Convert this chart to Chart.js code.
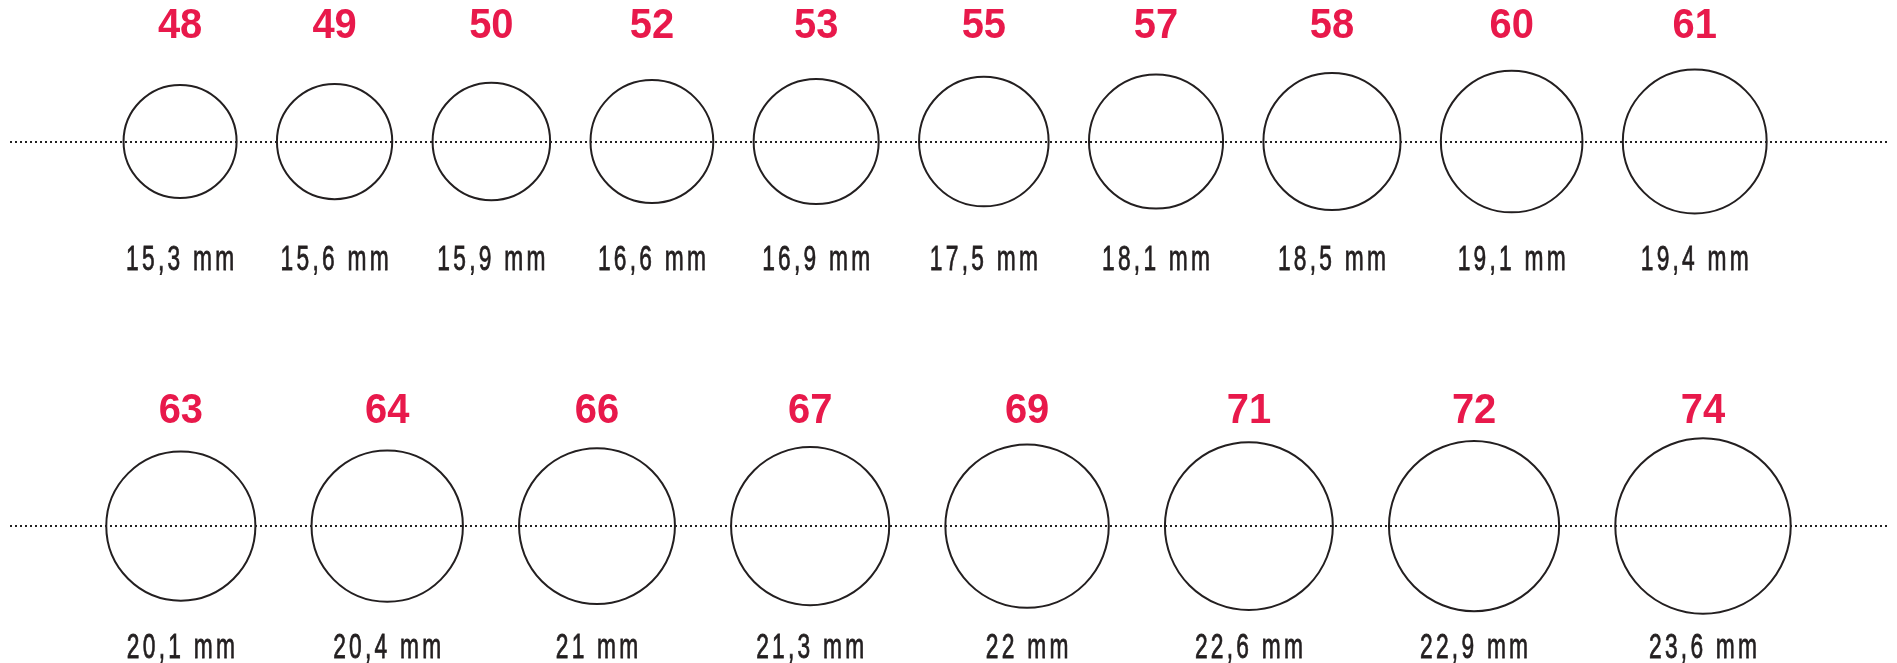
<!DOCTYPE html>
<html>
<head>
<meta charset="utf-8">
<script src="https://cdn.jsdelivr.net/npm/chart.js"></script>
<style>
  html, body { margin: 0; padding: 0; background: #fff; }
  #wrap { width: 1897px; height: 663px; }
</style>
</head>
<body>
<div id="wrap"><canvas id="ringChart"></canvas></div>
<script>
// ring sizes and inner diameters (mm), two rows as in the print chart
const sizesRow1 = [48, 49, 50, 52, 53, 55, 57, 58, 60, 61];
const diamRow1 = [15.3, 15.6, 15.9, 16.6, 16.9, 17.5, 18.1, 18.5, 19.1, 19.4];
const sizesRow2 = [63, 64, 66, 67, 69, 71, 72, 74];
const diamRow2 = [20.1, 20.4, 21, 21.3, 22, 22.6, 22.9, 23.6];

const RED = '#e8194b';
const INK = '#231f20';

// lay circles side by side along an x axis measured in mm
function rowPoints(sizes, diams, row, start, gap) {
    let x = start;
    return diams.map((d, i) => {
        const p = { x: x + d / 2, y: row, d: d, size: sizes[i] };
        x += d + gap;
        return p;
    });
}

function fmtMm(d) {
    return String(d).replace('.', ',') + ' mm';
}

const guideLines = {
    id: 'guideLines',
    beforeDatasetsDraw(chart) {
        const { ctx, chartArea, scales } = chart;
        ctx.save();
        ctx.strokeStyle = '#222';
        ctx.lineWidth = 2;
        ctx.setLineDash([2, 3]);
        [1, 2].forEach(row => {
            const y = Math.round(scales.y.getPixelForValue(row));
            ctx.beginPath();
            ctx.moveTo(chartArea.left + 10, y);
            ctx.lineTo(chartArea.right - 10, y);
            ctx.stroke();
        });
        ctx.restore();
    }
};

const ringLabels = {
    id: 'ringLabels',
    afterDatasetsDraw(chart) {
        const { ctx } = chart;
        chart.data.datasets.forEach((ds, di) => {
            const meta = chart.getDatasetMeta(di);
            const below = di === 0 ? 119 : 122;
            meta.data.forEach((pt, i) => {
                const raw = ds.data[i];
                ctx.save();
                ctx.textAlign = 'center';
                ctx.textBaseline = 'middle';
                ctx.fillStyle = RED;
                ctx.font = 'bold 42px "Liberation Sans", sans-serif';
                ctx.translate(pt.x, pt.y - 115);
                ctx.scale(0.95, 1);
                ctx.fillText(String(raw.size), 0, 0);
                ctx.restore();

                ctx.save();
                ctx.textAlign = 'center';
                ctx.textBaseline = 'middle';
                ctx.fillStyle = INK;
                ctx.strokeStyle = INK;
                ctx.lineWidth = 0.8;
                ctx.font = '35px "Liberation Sans", sans-serif';
                ctx.letterSpacing = '5px';
                ctx.translate(pt.x, pt.y + below);
                ctx.scale(0.65, 1);
                ctx.fillText(fmtMm(raw.d), 2.5, 0);
                ctx.strokeText(fmtMm(raw.d), 2.5, 0);
                ctx.restore();
            });
        });
    }
};

function ringRadius(ctx) {
    const xs = ctx.chart.scales.x;
    if (!xs || !ctx.raw) return 0;
    return Math.abs(xs.getPixelForValue(ctx.raw.d) - xs.getPixelForValue(0)) / 2 - 1;
}

new Chart(document.getElementById('ringChart'), {
    type: 'scatter',
    data: {
        datasets: [
            { label: 'Row 1', data: rowPoints(sizesRow1, diamRow1, 1, 16.3, 5.1) },
            { label: 'Row 2', data: rowPoints(sizesRow2, diamRow2, 2, 14.0, 7.2) }
        ]
    },
    options: {
        responsive: true,
        maintainAspectRatio: false,
        animation: false,
        events: [],
        layout: { padding: 0 },
        elements: {
            point: {
                radius: ringRadius,
                backgroundColor: 'rgba(0,0,0,0)',
                borderColor: INK,
                borderWidth: 2
            }
        },
        plugins: { legend: { display: false }, tooltip: { enabled: false } },
        scales: {
            x: { type: 'linear', display: false, min: 0, max: 252.3 },
            y: { type: 'linear', display: false, reverse: true, min: 0.632, max: 2.356 }
        }
    },
    plugins: [guideLines, ringLabels]
});
</script>
</body>
</html>
